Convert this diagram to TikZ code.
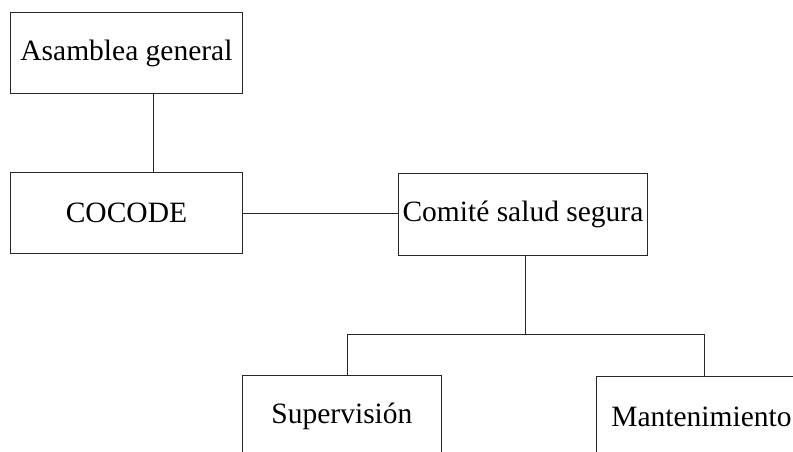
\documentclass[tikz,border=0pt]{standalone}
\usepackage{fontspec}
\setmainfont{Liberation Serif}
\begin{document}
\begin{tikzpicture}[x=1pt,y=-1pt,
  orgbox/.style={draw=black!85,line width=0.9pt,anchor=north west,inner sep=0pt,
    font=\fontsize{29.5}{35}\selectfont,text=black},
  link/.style={draw=black!85,line width=0.9pt}]
\useasboundingbox (0,0) rectangle (793,451);
\node[orgbox,minimum width=232pt,minimum height=81pt] (asm) at (10,12) {Asamblea general};
\node[orgbox,minimum width=232pt,minimum height=81pt] (coc) at (10,172) {COCODE};
\node[orgbox,minimum width=249pt,minimum height=82pt] (com) at (398,173) {Comité salud segura};
\node[orgbox,minimum width=199pt,minimum height=81pt] (sup) at (242,375) {Supervisión};
\node[orgbox,minimum width=210pt,minimum height=81pt] (man) at (596,376) {Mantenimiento};
\coordinate (xa) at (153,0);
\coordinate (jc) at (525,334);
\coordinate (js) at (347,334);
\coordinate (jm) at (704,334);
\draw[link] (asm.south -| xa) -- (coc.north -| xa);
\draw[link] (coc.east) -- (com.west |- coc.east);
\draw[link] (com.south -| jc) -- (jc);
\draw[link] (sup.north -| js) -- (js) -- (jm) -- (man.north -| jm);
\end{tikzpicture}
\end{document}
